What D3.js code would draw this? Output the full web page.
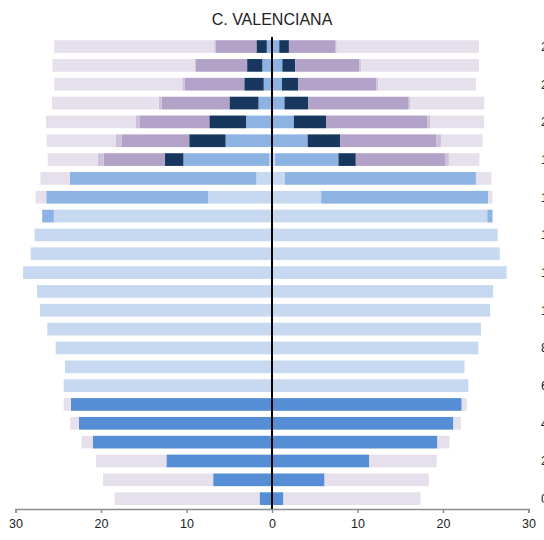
<!DOCTYPE html>
<html>
<head>
<meta charset="utf-8">
<title>C. Valenciana</title>
<script src="https://d3js.org/d3.v7.min.js"></script>
<style>
  body { margin: 0; background: #fff; }
  text { font-family: "Liberation Sans", Arial, sans-serif; fill: #222; }
</style>
</head>
<body>
<script>
// edades 0..24 (de abajo arriba)
var edades = [0, 1, 2, 3, 4, 5, 6, 7, 8, 9, 10, 11, 12, 13, 14, 15, 16, 17, 18, 19, 20, 21, 22, 23, 24];
var etiquetasEdad = [0, 2, 4, 6, 8, 10, 12, 14, 16, 18, 20, 22, 24];
var ticksX = [-30, -20, -10, 0, 10, 20, 30];

var categorias = ['infantil', 'obligatoria', 'postobligatoria', 'superior', 'universidad', 'otros', 'noEscolar'];
var colores = ['#558ed5', '#c6d9f1', '#8db3e2', '#17375e', '#b3a2c7', '#ccc1da', '#e6e0ec'];

// lado izquierdo
var infantilIzq = [1.46, 6.88, 12.35, 20.97, 22.59, 23.52, 0, 0, 0, 0, 0, 0, 0, 0, 0, 0, 0, 0, 0, 0, 0, 0, 0, 0, 0];
var obligatoriaIzq = [0, 0, 0, 0, 0, 0, 24.37, 24.21, 25.3, 26.28, 27.13, 27.49, 29.11, 28.22, 27.77, 25.51, 7.49, 1.82, 0.32, 0, 0, 0, 0, 0, 0];
var postobligatoriaIzq = [0, 0, 0, 0, 0, 0, 0, 0, 0, 0, 0, 0, 0, 0, 0, 1.37, 18.91, 21.82, 10.04, 5.43, 3.04, 1.58, 0.97, 1.13, 0.61];
var superiorIzq = [0, 0, 0, 0, 0, 0, 0, 0, 0, 0, 0, 0, 0, 0, 0, 0, 0, 0, 2.19, 4.25, 4.29, 3.4, 2.27, 1.78, 1.21];
var universidadIzq = [0, 0, 0, 0, 0, 0, 0, 0, 0, 0, 0, 0, 0, 0, 0, 0, 0, 0, 7.13, 7.93, 8.18, 7.93, 7.0, 6.0, 4.74];
var otrosIzq = [0, 0, 0, 0, 0, 0, 0, 0, 0, 0, 0, 0, 0, 0, 0, 0, 0, 0, 0.72, 0.69, 0.4, 0.33, 0.25, 0.15, 0.2];
var noEscolarIzq = [16.96, 12.88, 8.22, 1.3, 1.01, 0.85, 0, 0, 0, 0, 0, 0, 0, 0, 0, 0, 1.25, 3.45, 5.83, 8.06, 10.53, 12.51, 14.98, 16.61, 18.71];

// lado derecho
var infantilDer = [1.34, 6.15, 11.38, 19.35, 21.21, 22.19, 0, 0, 0, 0, 0, 0, 0, 0, 0, 0, 0, 0, 0, 0, 0, 0, 0, 0, 0];
var obligatoriaDer = [0, 0, 0, 0, 0, 0, 22.96, 22.51, 24.13, 24.45, 25.51, 25.87, 27.45, 26.64, 26.4, 25.18, 5.75, 1.5, 0.36, 0, 0, 0, 0, 0, 0];
var postobligatoriaDer = [0, 0, 0, 0, 0, 0, 0, 0, 0, 0, 0, 0, 0, 0, 0, 0.61, 19.55, 22.35, 7.41, 4.17, 2.55, 1.46, 1.17, 1.21, 0.85];
var superiorDer = [0, 0, 0, 0, 0, 0, 0, 0, 0, 0, 0, 0, 0, 0, 0, 0, 0, 0, 2.03, 3.81, 3.81, 2.79, 1.91, 1.5, 1.13];
var universidadDer = [0, 0, 0, 0, 0, 0, 0, 0, 0, 0, 0, 0, 0, 0, 0, 0, 0, 0, 10.44, 11.21, 11.82, 11.66, 9.11, 7.49, 5.39];
var otrosDer = [0, 0, 0, 0, 0, 0, 0, 0, 0, 0, 0, 0, 0, 0, 0, 0, 0, 0, 0.45, 0.57, 0.32, 0.28, 0.24, 0.2, 0.2];
var noEscolarDer = [16.03, 12.19, 7.89, 1.42, 0.89, 0.6, 0, 0, 0, 0, 0, 0, 0, 0, 0, 0, 0.49, 1.82, 3.56, 4.86, 6.32, 8.63, 11.42, 13.8, 16.63];

var series = {
  izq: [infantilIzq, obligatoriaIzq, postobligatoriaIzq, superiorIzq, universidadIzq, otrosIzq, noEscolarIzq],
  der: [infantilDer, obligatoriaDer, postobligatoriaDer, superiorDer, universidadDer, otrosDer, noEscolarDer]
};

function tabla(arrs) {
  return edades.map(function(e, i) {
    var row = { edad: e };
    categorias.forEach(function(c, j) { row[c] = arrs[j][i]; });
    return row;
  });
}

var width = 544, height = 540;

var svg = d3.select('body')
  .append('svg')
    .attr('width', width)
    .attr('height', height);

var x = d3.scaleLinear()
  .domain([-30, 30])
  .range([15.5, 528.5]);

var y = d3.scaleBand()
  .domain(edades.slice().reverse())
  .range([40.2, 505])
  .paddingInner(0.326)
  .paddingOuter(0);

var color = d3.scaleOrdinal()
  .domain(categorias)
  .range(colores);

var stack = d3.stack().keys(categorias);

['izq', 'der'].forEach(function(lado) {
  var sign = lado === 'izq' ? -1 : 1;
  var capas = stack(tabla(series[lado]));

  svg.append('g')
    .attr('class', 'lado-' + lado)
    .selectAll('g')
    .data(capas)
    .enter()
      .append('g')
        .attr('fill', function(d) { return color(d.key); })
      .selectAll('rect')
      .data(function(d) { return d.filter(function(s) { return s[1] - s[0] > 0; }); })
      .enter()
        .append('rect')
          .attr('x', function(s) { return Math.min(x(sign * s[0]), x(sign * s[1])); })
          .attr('width', function(s) { return Math.abs(x(sign * s[1]) - x(sign * s[0])); })
          .attr('y', function(s) { return y(s.data.edad); })
          .attr('height', y.bandwidth());
});

// eje inferior
var xAxis = d3.axisBottom(x)
  .tickValues(ticksX)
  .tickFormat(function(d) { return Math.abs(d); })
  .tickSizeInner(4)
  .tickSizeOuter(4)
  .tickPadding(6);

var gx = svg.append('g')
  .attr('transform', 'translate(0,509)')
  .call(xAxis);

gx.select('.domain').attr('stroke', '#8c8c8c').attr('stroke-width', 1.5);
gx.selectAll('.tick line').attr('stroke', '#8c8c8c').attr('stroke-width', 1.5);
gx.selectAll('.tick text')
  .attr('fill', '#222')
  .style('font-size', '12.5px')
  .style('font-family', '"Liberation Sans", Arial, sans-serif');

// linea central
svg.append('line')
  .attr('x1', x(0)).attr('x2', x(0))
  .attr('y1', 37).attr('y2', 509)
  .attr('stroke', '#000')
  .attr('stroke-width', 2);

// etiquetas de edad (derecha, cortadas por el borde)
svg.append('g')
  .selectAll('text')
  .data(etiquetasEdad)
  .enter()
    .append('text')
      .attr('x', 541)
      .attr('y', function(d) { return y(d) + y.bandwidth() / 2; })
      .attr('dy', '0.35em')
      .style('font-size', '12.5px')
      .text(function(d) { return d; });

svg.append('text')
  .attr('x', 272)
  .attr('y', 25)
  .attr('text-anchor', 'middle')
  .style('font-size', '16px')
  .text('C. VALENCIANA');
</script>
</body>
</html>
